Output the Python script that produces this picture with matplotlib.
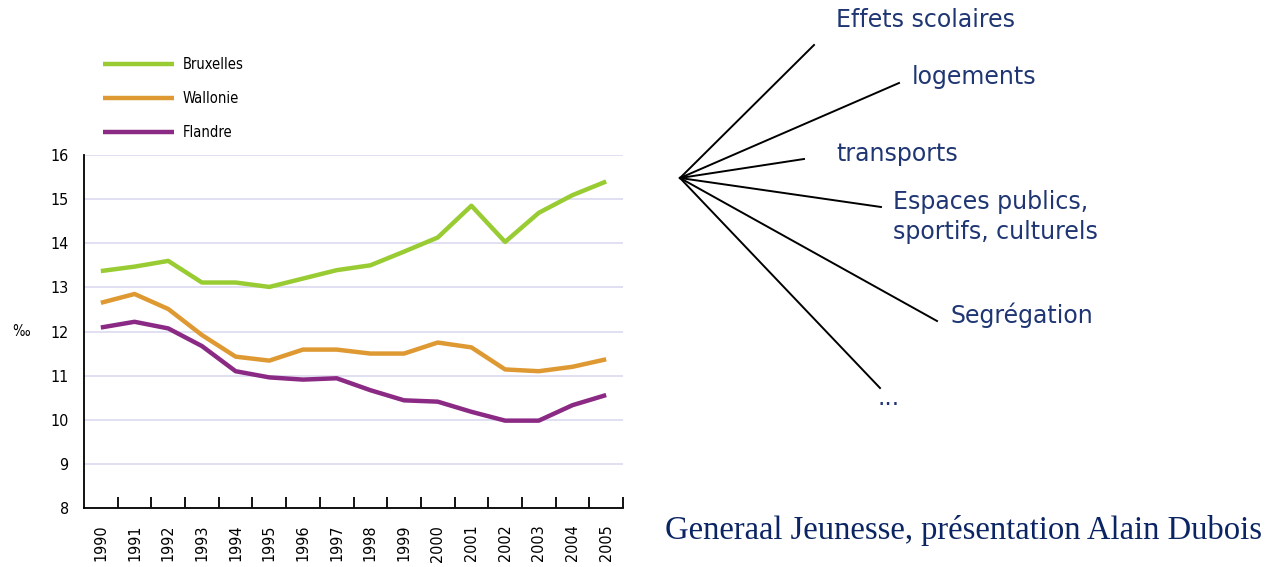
import matplotlib
matplotlib.use("Agg")
import matplotlib.pyplot as plt
from matplotlib.lines import Line2D

# data (per mille)
years = [str(y) for y in range(1990, 2006)]
bruxelles = [13.37, 13.47, 13.60, 13.11, 13.11, 13.01, 13.20, 13.39, 13.50,
             13.81, 14.13, 14.85, 14.03, 14.69, 15.09, 15.40]
wallonie = [12.65, 12.85, 12.51, 11.92, 11.43, 11.34, 11.59, 11.59, 11.50,
            11.50, 11.75, 11.64, 11.14, 11.10, 11.20, 11.37]
flandre = [12.09, 12.22, 12.07, 11.67, 11.10, 10.96, 10.91, 10.94, 10.67,
           10.44, 10.41, 10.18, 9.98, 9.98, 10.33, 10.56]
series_names = ["Bruxelles", "Wallonie", "Flandre"]
series_colors = ["#99cc33", "#de9933", "#8b2a84"]

branch_labels = ["Effets scolaires", "logements", "transports",
                 "Espaces publics,\nsportifs, culturels", "Segrégation", "..."]

W, H = 1268, 567
SANS = "DejaVu Sans"

fig = plt.figure(figsize=(W / 100, H / 100), dpi=100)
fig.patch.set_facecolor("white")

def px(x0, y0, x1, y1):          # pixel box -> figure fraction rect
    return [x0 / W, 1 - y1 / H, (x1 - x0) / W, (y1 - y0) / H]

ax = fig.add_axes(px(84, 155, 623, 508))
x = list(range(len(years)))
for vals, name, col in zip([bruxelles, wallonie, flandre], series_names, series_colors):
    ax.plot(x, vals, color=col, lw=3.2, label=name, solid_capstyle="butt")

ax.set_xlim(-0.5, len(years) - 0.5)
ax.set_ylim(8, 16)
ax.set_yticks(range(8, 17))
ax.yaxis.grid(True, color="#dcdaf0", lw=1.2)
ax.set_axisbelow(True)
for s in ("top", "right"):
    ax.spines[s].set_visible(False)
ax.spines["left"].set_linewidth(1.3)
ax.spines["bottom"].set_linewidth(1.3)

ax.set_xticks([i + 0.5 for i in x])
ax.set_xticks(x, minor=True)
ax.set_xticklabels([])
ax.set_xticklabels(years, minor=True, rotation=90, fontsize=11.5, family=SANS,
                   fontstretch="condensed")
ax.tick_params(axis="x", which="major", direction="in", length=8, width=1.3)
ax.tick_params(axis="x", which="minor", length=0, pad=12)
ax.tick_params(axis="y", length=0, pad=11)
for t in ax.get_yticklabels():
    t.set_fontsize(11.5)
    t.set_family(SANS)
    t.set_fontstretch("condensed")

fig.text(12 / W, 1 - 332 / H, "‰", fontsize=10.5, family=SANS, fontstretch="condensed",
         va="center", ha="left")

leg = ax.legend(loc="upper left", bbox_to_anchor=(103 / W, 1 - 57 / H),
                bbox_transform=fig.transFigure, frameon=False,
                prop={"family": SANS, "size": 10.5, "stretch": "condensed"},
                handlelength=4.9, handletextpad=0.55, labelspacing=1.3,
                borderpad=0, borderaxespad=0)

# right-hand diagram
dg = fig.add_axes([0, 0, 1, 1])
dg.set_xlim(0, W)
dg.set_ylim(H, 0)
dg.axis("off")
origin = (680, 178)
ends = [(814, 45), (899, 83), (804, 159), (881, 207), (937, 321), (880, 388)]
for ex, ey in ends:
    dg.add_line(Line2D([origin[0], ex], [origin[1], ey], color="black", lw=1.4))

label_pos = [(836, 20), (912, 77), (836, 154), (893, 217), (950, 315), (878, 398)]
navy = "#1f3673"
for (lx, ly), lab in zip(label_pos, branch_labels):
    dg.text(lx, ly, lab, fontsize=17, color=navy, family=SANS,
            ha="left", va="center", linespacing=1.3)

fig.text(665 / W, 1 - 531 / H, "Generaal Jeunesse, présentation Alain Dubois",
         fontsize=23.5, color="#0b2463", family=["Liberation Serif", "DejaVu Serif"],
         ha="left", va="center")

fig.savefig("out.png", dpi=100, facecolor="white")
